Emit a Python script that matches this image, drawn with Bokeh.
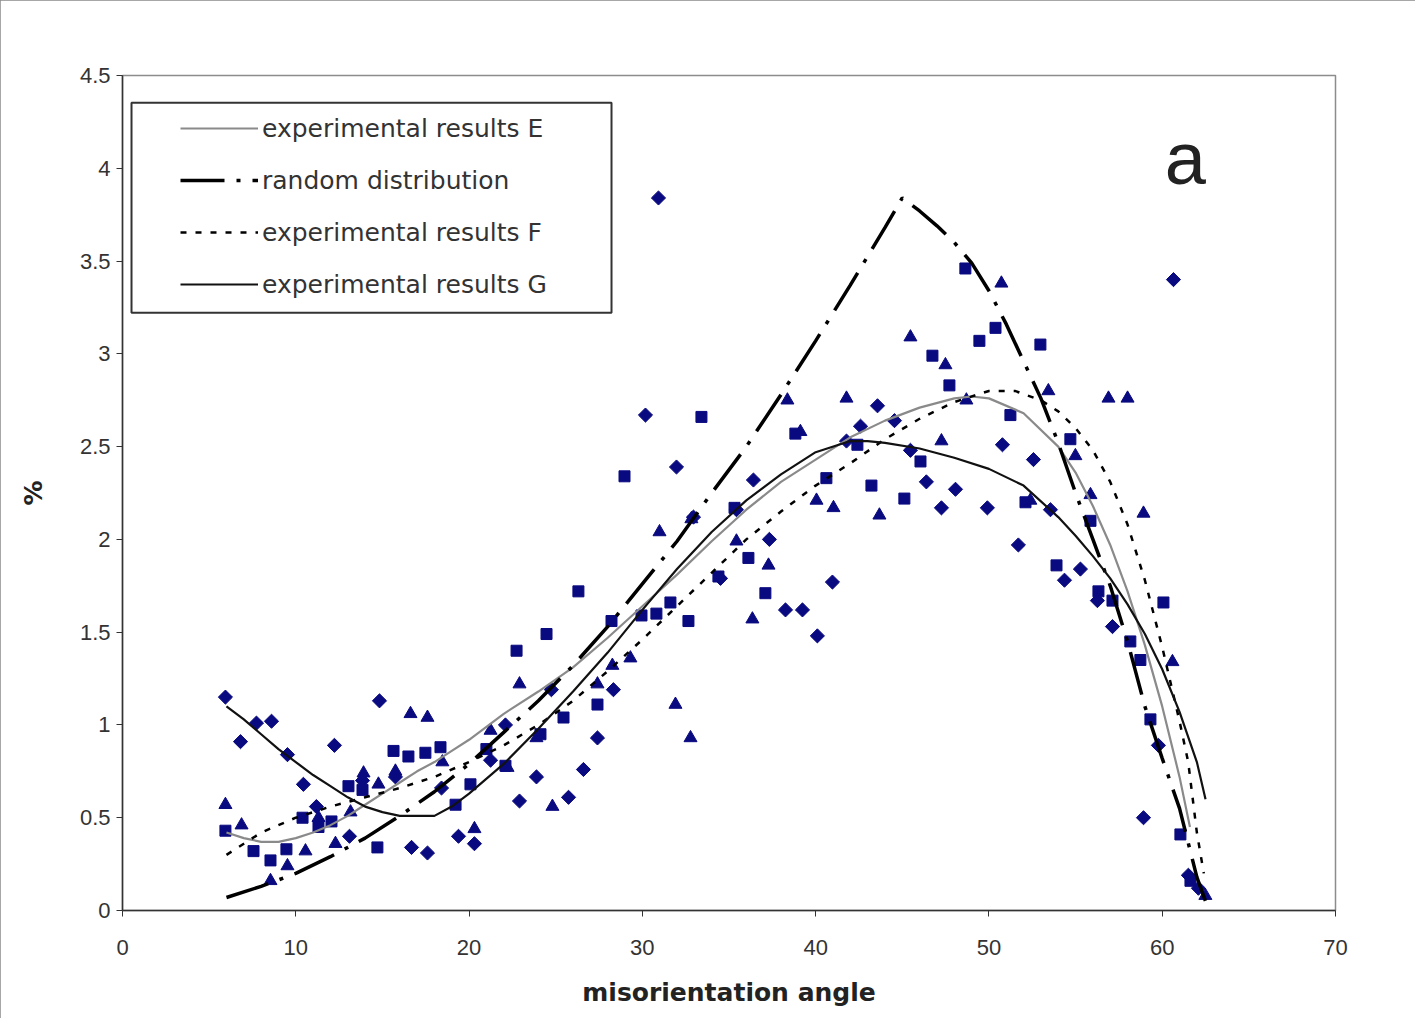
from bokeh.plotting import figure
from bokeh.models import Range1d, FixedTicker, Legend, LegendItem, BoxAnnotation
from bokeh.core.properties import value
from bokeh.embed import file_html
from bokeh.resources import INLINE

# ---------------- data ----------------
x_ticks = [0, 10, 20, 30, 40, 50, 60, 70]
y_ticks = [0, 0.5, 1, 1.5, 2, 2.5, 3, 3.5, 4, 4.5]
y_tick_labels = ["0", "0.5", "1", "1.5", "2", "2.5", "3", "3.5", "4", "4.5"]

diam_x = [5.94, 6.81, 7.73, 8.60, 9.52, 10.44, 11.19, 12.23, 13.10, 13.85, 14.83, 15.75, 16.68, 17.60,
          18.41, 19.39, 20.31, 21.24, 22.10, 22.91, 23.89, 24.75, 25.74, 26.60, 27.41, 28.33, 30.18,
          30.93, 31.97, 32.95, 34.51, 35.43, 36.41, 37.33, 38.26, 39.24, 40.10, 40.97, 41.78, 42.59,
          43.57, 44.55, 45.47, 46.39, 47.26, 48.07, 49.91, 50.78, 51.70, 52.57, 53.55, 54.36, 55.28,
          56.26, 57.13, 58.92, 59.78, 60.65, 61.51, 62.09]
diam_y = [1.15, 0.91, 1.01, 1.02, 0.84, 0.68, 0.56, 0.89, 0.40, 0.70, 1.13, 0.72, 0.34, 0.31,
          0.66, 0.40, 0.36, 0.81, 1.00, 0.59, 0.72, 1.19, 0.61, 0.76, 0.93, 1.19, 2.67,
          3.84, 2.39, 2.12, 1.79, 2.16, 2.32, 2.00, 1.62, 1.62, 1.48, 1.77, 2.53, 2.61,
          2.72, 2.64, 2.48, 2.31, 2.17, 2.27, 2.17, 2.51, 1.97, 2.43, 2.16, 1.78, 1.84,
          1.67, 1.53, 0.50, 0.89, 3.40, 0.19, 0.12]

sq_x = [5.94, 7.56, 8.54, 9.46, 10.39, 11.31, 12.06, 13.04, 13.85, 14.71, 15.64, 16.50, 17.48, 18.35,
        19.22, 20.08, 21.00, 22.10, 22.74, 24.12, 24.47, 25.45, 26.31, 27.41, 28.22, 28.97, 29.95,
        30.81, 31.62, 32.66, 33.41, 34.39, 35.32, 36.12, 37.10, 38.83, 40.62, 42.41, 43.22, 45.12,
        46.05, 46.74, 47.72, 48.64, 49.45, 50.38, 51.24, 52.11, 52.97, 53.90, 54.70, 55.86, 56.32,
        57.13, 58.16, 58.74, 59.32, 60.07, 61.05, 61.63]
sq_y = [0.43, 0.32, 0.27, 0.33, 0.50, 0.45, 0.48, 0.67, 0.65, 0.34, 0.86, 0.83, 0.85, 0.88,
        0.57, 0.68, 0.87, 0.78, 1.40, 0.95, 1.49, 1.04, 1.72, 1.11, 1.56, 2.34, 1.59,
        1.60, 1.66, 1.56, 2.66, 1.80, 2.17, 1.90, 1.71, 2.57, 2.33, 2.51, 2.29, 2.22,
        2.42, 2.99, 2.83, 3.46, 3.07, 3.14, 2.67, 2.20, 3.05, 1.86, 2.54, 2.10, 1.72,
        1.67, 1.45, 1.35, 1.03, 1.66, 0.41, 0.16]

tri_x = [5.94, 6.87, 8.54, 9.52, 10.56, 11.31, 12.29, 13.16, 13.91, 14.77, 15.75, 16.62, 17.60, 18.46,
         20.31, 21.24, 22.22, 22.91, 23.89, 24.81, 27.41, 28.27, 29.31, 30.99, 31.91, 32.78, 32.83,
         35.43, 36.35, 37.28, 38.37, 39.12, 40.05, 41.03, 41.78, 43.68, 45.47, 47.26, 47.49, 48.70,
         50.72, 52.39, 53.43, 54.99, 55.86, 56.90, 58.00, 58.92, 60.59, 62.49]
tri_y = [0.57, 0.46, 0.16, 0.24, 0.32, 0.50, 0.36, 0.53, 0.74, 0.68, 0.75, 1.06, 1.04, 0.80,
         0.44, 0.97, 0.77, 1.22, 0.93, 0.56, 1.22, 1.32, 1.36, 2.04, 1.11, 0.93, 2.11,
         1.99, 1.57, 1.86, 2.75, 2.58, 2.21, 2.17, 2.76, 2.13, 3.09, 2.53, 2.94, 2.75,
         3.38, 2.21, 2.80, 2.45, 2.24, 2.76, 2.76, 2.14, 1.34, 0.08]

e_x = [6, 7, 8, 9, 10, 11, 12, 13, 14, 15, 16, 17, 18, 19, 20, 22, 24, 26, 28, 30, 32, 34, 36, 38,
       40, 42, 44, 46, 48, 49, 50, 52, 54, 55, 56, 57, 58, 59, 60, 61, 61.6]
e_y = [0.42, 0.39, 0.37, 0.37, 0.39, 0.42, 0.46, 0.51, 0.57, 0.63, 0.69, 0.75, 0.80, 0.86, 0.92,
       1.06, 1.18, 1.31, 1.47, 1.64, 1.81, 1.99, 2.16, 2.31, 2.43, 2.55, 2.64, 2.71, 2.76, 2.77,
       2.76, 2.68, 2.50, 2.36, 2.18, 1.97, 1.72, 1.43, 1.10, 0.72, 0.45]

rand_x = [6, 8, 10, 12, 14, 16, 18, 20, 22, 24, 26, 28, 30, 32, 34, 36, 38, 40, 42, 44, 45,
          46, 47, 48, 49, 50, 51, 52, 53, 54, 55, 56, 57, 58, 59, 60, 61, 62, 62.5]
rand_y = [0.07, 0.13, 0.20, 0.29, 0.39, 0.51, 0.64, 0.79, 0.96, 1.13, 1.32, 1.53, 1.76, 1.99,
          2.25, 2.50, 2.78, 3.07, 3.37, 3.68, 3.84, 3.77, 3.69, 3.60, 3.49, 3.34, 3.16, 2.96,
          2.76, 2.52, 2.25, 2.00, 1.75, 1.45, 1.10, 0.82, 0.55, 0.18, 0.05]

f_x = [6, 7, 8, 10, 12, 14, 16, 18, 20, 22, 24, 26, 28, 30, 32, 34, 36, 38, 40, 42, 44, 46, 48,
       50, 51.5, 53, 54, 55, 56, 57, 58, 59, 60, 60.5, 61, 61.5, 62, 62.4]
f_y = [0.30, 0.36, 0.42, 0.50, 0.56, 0.61, 0.66, 0.72, 0.80, 0.89, 1.00, 1.13, 1.29, 1.46, 1.64,
       1.82, 2.00, 2.15, 2.29, 2.41, 2.54, 2.65, 2.74, 2.80, 2.80, 2.75, 2.69, 2.60, 2.48, 2.31,
       2.08, 1.78, 1.42, 1.22, 1.02, 0.80, 0.42, 0.20]

g_x = [6, 7, 8, 9, 10, 11, 12, 13, 14, 15, 16, 17, 18, 19, 20, 22, 24, 26, 28, 30, 32, 34, 36, 38,
       40, 42, 43, 44, 46, 48, 50, 52, 54, 55, 56, 57, 58, 59, 60, 61, 62, 62.5]
g_y = [1.10, 1.03, 0.95, 0.87, 0.80, 0.73, 0.67, 0.61, 0.56, 0.53, 0.51, 0.51, 0.51, 0.56, 0.63,
       0.79, 0.98, 1.18, 1.39, 1.62, 1.84, 2.04, 2.21, 2.35, 2.47, 2.53, 2.53, 2.52, 2.49, 2.44,
       2.38, 2.29, 2.12, 2.02, 1.91, 1.79, 1.65, 1.49, 1.30, 1.07, 0.80, 0.60]

legend_labels = ["experimental results E", "random distribution",
                 "experimental results F", "experimental results G"]

# ---------------- figure ----------------
FONT = "Liberation Sans"
WIDE = "DejaVu Sans"
p = figure(width=1415, height=1018, output_backend="svg", toolbar_location=None,
           x_range=Range1d(0, 70), y_range=Range1d(0, 4.5),
           min_border_left=122, min_border_right=80, min_border_top=75, min_border_bottom=108)
p.styles = {"outline": "3px solid #8a8a8a", "outline-offset": "-3px"}
p.grid.visible = False
p.outline_line_color = "#8c8c8c"
p.outline_line_width = 1.5
p.background_fill_color = "white"
p.border_fill_color = "white"

for ax in (p.xaxis[0], p.yaxis[0]):
    ax.axis_line_color = "#333333"
    ax.axis_line_width = 1.5
    ax.major_tick_line_color = "#333333"
    ax.major_tick_in = 0
    ax.major_tick_out = 6
    ax.minor_tick_line_color = None
    ax.major_label_text_font = FONT
    ax.major_label_text_font_size = "22px"
    ax.major_label_text_color = "#333333"
    ax.axis_label_text_font = WIDE
    ax.axis_label_text_font_size = "25px"
    ax.axis_label_text_font_style = "bold"
    ax.axis_label_text_color = "#222222"

p.xaxis.ticker = FixedTicker(ticks=x_ticks)
p.yaxis.ticker = FixedTicker(ticks=y_ticks)
p.yaxis.major_label_overrides = {t: s for t, s in zip(y_ticks, y_tick_labels)}
p.xaxis.major_label_standoff = 23
p.yaxis.major_label_standoff = 6
p.xaxis.axis_label = "misorientation angle"
p.yaxis.axis_label = "%"
p.xaxis.axis_label_standoff = 20
p.yaxis.axis_label_standoff = 29

NAVY = "#0a0a80"
p.scatter(diam_x, diam_y, marker="square", angle=0.785398, size=10, color=NAVY)
p.scatter(sq_x, sq_y, marker="square", size=11, color=NAVY)
p.scatter(tri_x, tri_y, marker="triangle", size=13, color=NAVY)

r_e = p.line(e_x, e_y, line_color="#8a8a8a", line_width=2.2)
r_r = p.line(rand_x, rand_y, line_color="black", line_width=3.5, line_dash="44 12 4 12")
r_f = p.line(f_x, f_y, line_color="black", line_width=2.5, line_dash="6 9")
r_g = p.line(g_x, g_y, line_color="#111111", line_width=2.2)

p.text(x=[61.34], y=[4.055], text=["a"], text_font=value(FONT), text_font_size="74px",
       text_align="center", text_baseline="alphabetic", text_color="#222222")

# legend frame (white box with border)
box = BoxAnnotation(left=0.52, right=28.22, bottom=3.222, top=4.353,
                    fill_color="white", fill_alpha=1.0, line_color="#333333",
                    line_alpha=1.0, line_width=2)
p.add_layout(box)

legend = Legend(items=[LegendItem(label=legend_labels[0], renderers=[r_e]),
                       LegendItem(label=legend_labels[1], renderers=[r_r]),
                       LegendItem(label=legend_labels[2], renderers=[r_f]),
                       LegendItem(label=legend_labels[3], renderers=[r_g])],
                location=(58, 600), padding=0, margin=0, spacing=0,
                glyph_width=78, glyph_height=52, label_height=52, label_standoff=4,
                label_text_font=WIDE, label_text_font_size="25px", label_text_color="#333333",
                border_line_alpha=0, background_fill_alpha=0)
p.add_layout(legend)

open("out.html", "w").write(file_html(p, INLINE))
